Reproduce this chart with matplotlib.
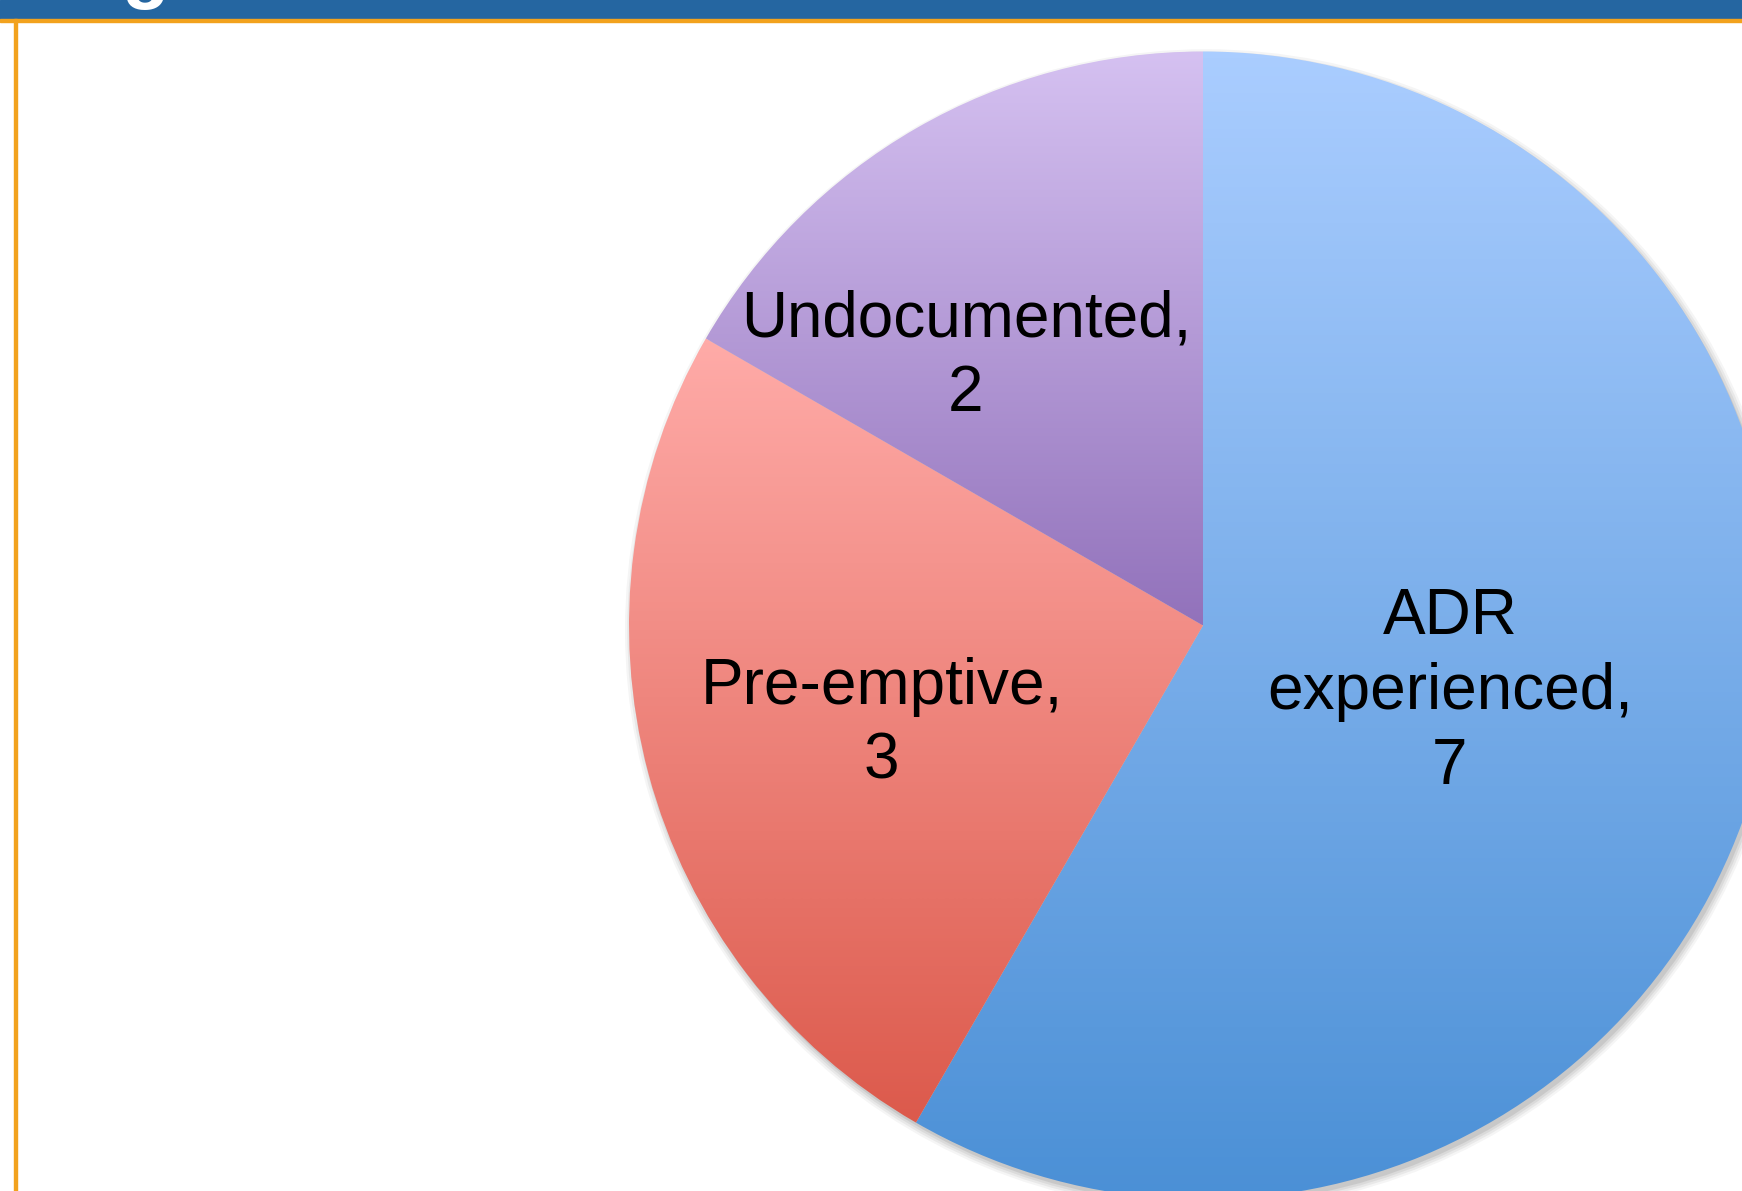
import matplotlib
matplotlib.use("Agg")
import matplotlib.pyplot as plt
import numpy as np
from matplotlib.patches import Rectangle, Circle
from matplotlib.colors import LinearSegmentedColormap

labels = ["ADR\nexperienced,\n7", "Pre-emptive,\n3", "Undocumented,\n2"]
values = [7, 3, 2]
# top / bottom colour of each slice gradient
grad_top = ["#aacdff", "#ffaba8", "#d5c1f1"]
grad_bot = ["#4b90d6", "#dc5a4c", "#9272bb"]
# label positions in data coords (pie radius = 1)
label_xy = [(0.43, -0.116), (-0.56, -0.172), (-0.413, 0.468)]

W, H = 1742, 1191
fig = plt.figure(figsize=(W / 100, H / 100), dpi=100)
fig.patch.set_facecolor("white")

# pie placement in pixels
cx, cy, R = 1203, 625.5, 574.0
ax = fig.add_axes([0, 0, 1, 1])

# soft shadow
for i, a in enumerate([0.04, 0.05, 0.06, 0.08]):
    ax.add_patch(Circle((0.005, -0.008), 1.012 - i * 0.004, color="black",
                        alpha=a, lw=0, zorder=0))

wedges, _ = ax.pie(values, startangle=90, counterclock=False, radius=1,
                   center=(0, 0), frame=True)

for w, c0, c1 in zip(wedges, grad_top, grad_bot):
    w.set_facecolor("none")
    w.set_edgecolor("none")
    ext = w.get_path().get_extents()
    cmap = LinearSegmentedColormap.from_list("g", [c1, c0])
    grad = np.linspace(0, 1, 256).reshape(-1, 1)
    im = ax.imshow(grad, cmap=cmap, origin="lower", aspect="auto",
                   extent=[ext.x0, ext.x1, ext.y0, ext.y1], zorder=1,
                   interpolation="bilinear")
    im.set_clip_path(w)

ax.set_aspect("auto")
ax.set_xlim(-cx / R, (W - cx) / R)
ax.set_ylim(-(H - cy) / R, cy / R)
ax.axis("off")

for (x, y), lab in zip(label_xy, labels):
    ax.text(x, y, lab, ha="center", va="center", fontsize=46,
            family="Liberation Sans", linespacing=1.32, zorder=3,
            multialignment="center")

# header bar and borders
fig.patches.append(Rectangle((0, 1 - 19 / H), 1, 19 / H, transform=fig.transFigure,
                             color="#2566a1", zorder=5))
fig.patches.append(Rectangle((0, 1 - 21.5 / H), 1, 2.5 / H, transform=fig.transFigure,
                             color="#f2a21e", zorder=5))
fig.patches.append(Rectangle((14 / W, 0), 2.5 / W, 1 - 19 / H, transform=fig.transFigure,
                             color="#f2a21e", zorder=5))
fig.text(146 / W, 1 + 6 / H, "g", color="white", fontsize=56, fontweight="bold",
         family="Liberation Sans", ha="center", va="baseline", zorder=6)

fig.savefig("out.png", dpi=100)
